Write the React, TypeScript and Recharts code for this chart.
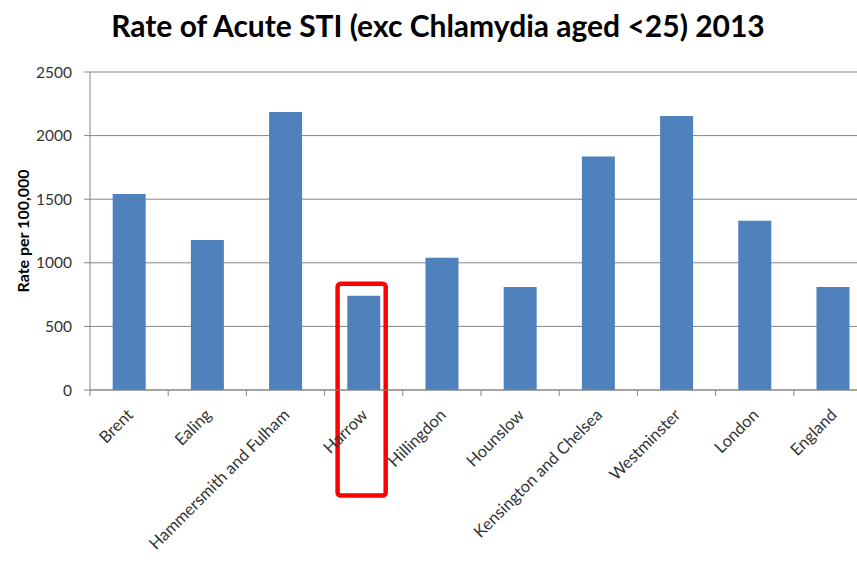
import React from 'react';
import { BarChart, Bar, XAxis, YAxis, CartesianGrid, ReferenceArea } from 'recharts';

const areas = [
  'Brent',
  'Ealing',
  'Hammersmith and Fulham',
  'Harrow',
  'Hillingdon',
  'Hounslow',
  'Kensington and Chelsea',
  'Westminster',
  'London',
  'England',
];
const rates = [1540, 1180, 2185, 740, 1040, 810, 1835, 2155, 1330, 810];
const yTicks = [0, 500, 1000, 1500, 2000, 2500];
const highlighted = 'Harrow';

const data = areas.map((area, i) => ({ area, rate: rates[i] }));

const FONT = 'Lato, "Open Sans", sans-serif';

const CategoryTick = (props: any) => {
  const { x, y, payload } = props;
  const half = payload && payload.offset ? payload.offset : 39;
  const tx = x + 5;
  const ty = y + 26;
  return (
    <g>
      <line x1={x - half} x2={x - half} y1={y} y2={y + 6} stroke="#868686" />
      <text
        x={tx}
        y={ty}
        textAnchor="end"
        transform={`rotate(-45 ${tx} ${ty})`}
        fill="#333"
        fontSize={16.5}
        fontFamily={FONT}
      >
        {payload.value}
      </text>
    </g>
  );
};

const HighlightBox = (props: any) => {
  const { x, y, width, height } = props;
  return (
    <rect
      x={x + 13}
      y={y}
      width={width * 0.615}
      height={height}
      rx={3}
      fill="none"
      stroke="#FF0000"
      strokeWidth={4.5}
    />
  );
};

export default function App() {
  return (
    <div style={{ position: 'absolute', left: 0, top: 0, width: 857, height: 563, overflow: 'hidden', background: '#fff' }}>
      <div
        style={{
          position: 'absolute',
          left: 0,
          width: 876,
          top: 7,
          textAlign: 'center',
          fontFamily: FONT,
          fontWeight: 700,
          fontSize: 30,
          color: '#000',
        }}
      >
        Rate of Acute STI (exc Chlamydia aged &lt;25) 2013
      </div>
      <BarChart
        width={880}
        height={563}
        data={data}
        margin={{ top: 72, right: 8, bottom: 0, left: 0 }}
        barCategoryGap="29%"
      >
        <CartesianGrid vertical={false} stroke="#868686" />
        <XAxis
          dataKey="area"
          interval={0}
          height={173}
          stroke="#868686"
          tickLine={false}
          tickSize={0}
          tickMargin={0}
          tick={<CategoryTick />}
        />
        <YAxis
          width={90}
          domain={[0, 2500]}
          ticks={yTicks}
          stroke="#868686"
          tickSize={6}
          tickMargin={12}
          tick={{ fill: '#333', fontSize: 15.5, fontFamily: FONT }}
          label={{
            value: 'Rate per 100,000',
            angle: -90,
            position: 'insideLeft',
            offset: 23,
            style: { textAnchor: 'middle', fontWeight: 700, fontSize: 16, fill: '#000', fontFamily: FONT },
          }}
        />
        <Bar dataKey="rate" fill="#4F81BD" isAnimationActive={false} />
        <ReferenceArea
          x1={highlighted}
          x2={highlighted}
          y1={-830}
          y2={835}
          ifOverflow="visible"
          shape={<HighlightBox />}
        />
      </BarChart>
    </div>
  );
}
